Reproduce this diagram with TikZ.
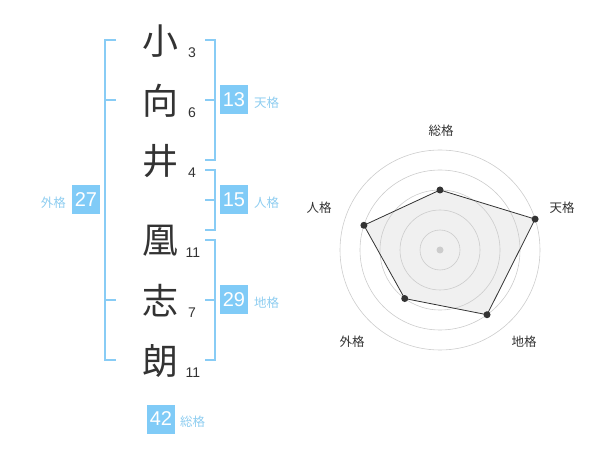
\documentclass[tikz,border=0pt]{standalone}
\usepackage{fontspec}
\setmainfont{Liberation Sans}
\newfontfamily\jp{Noto Sans CJK JP}
\definecolor{brk}{HTML}{88CCF5}
\definecolor{boxc}{HTML}{80CBF7}
\definecolor{lblc}{HTML}{8ECDF0}
\definecolor{ink}{HTML}{333333}
\definecolor{ring}{HTML}{CCCCCC}
\definecolor{area}{HTML}{F0F0F0}
\begin{document}
\begin{tikzpicture}[x=1pt,y=-1pt,
  kanji/.style={font=\jp\fontsize{36}{36}\selectfont, text=ink, inner sep=0pt},
  strokes/.style={font=\fontsize{14}{14}\selectfont, text=ink, inner sep=0pt},
  numbox/.style={fill=boxc, text=white, font=\fontsize{20}{20}\selectfont, minimum width=28pt, minimum height=29pt, inner sep=0pt},
  kaku/.style={font=\jp\fontsize{12.5}{12.5}\selectfont, text=lblc, inner sep=0pt},
  bracket/.style={draw=brk, line width=2pt},
  ringc/.style={draw=ring, line width=0.6pt},
  dot/.style={circle, fill=ink, minimum size=7pt, inner sep=0pt},
  axlbl/.style={font=\jp\fontsize{12.5}{12.5}\selectfont, text=ink, inner sep=0pt}]
\useasboundingbox (0,0) rectangle (600,470);
% kanji
\node[kanji] (k1) at (160,41) {小};
\node[kanji] (k2) at (160,101) {向};
\node[kanji] (k3) at (160,161) {井};
\node[kanji] (k4) at (160,241) {凰};
\node[kanji] (k5) at (160,301) {志};
\node[kanji] (k6) at (160,361) {朗};
% stroke counts
\node[strokes] (s1) at (192,53) {3};
\node[strokes] (s2) at (192,113) {6};
\node[strokes] (s3) at (192,173) {4};
\node[strokes] (s4) at (193,253) {11};
\node[strokes] (s5) at (192,313) {7};
\node[strokes] (s6) at (193,373) {11};
% brackets
\draw[bracket] (116,40) -- (105,40) -- (105,360) -- (116,360);
\draw[bracket] (105,100) -- (116,100);
\draw[bracket] (105,300) -- (116,300);
\draw[bracket] (205,40) -- (215,40) -- (215,160) -- (205,160);
\draw[bracket] (205,100) -- (215,100);
\draw[bracket] (205,170) -- (215,170) -- (215,230) -- (205,230);
\draw[bracket] (205,200) -- (215,200);
\draw[bracket] (205,240) -- (215,240) -- (215,360) -- (205,360);
\draw[bracket] (205,300) -- (215,300);
% boxes and labels
\node[numbox] (b13) at (234,100) {13};
\node[kaku, anchor=west] (l13) at (254,103) {天格};
\node[numbox] (b15) at (234,200) {15};
\node[kaku, anchor=west] (l15) at (254,203) {人格};
\node[numbox] (b29) at (234,300) {29};
\node[kaku, anchor=west] (l29) at (254,303) {地格};
\node[numbox] (b27) at (86,200) {27};
\node[kaku, anchor=east] (l27) at (66,203) {外格};
\node[numbox] (b42) at (161,419) {42};
\node[kaku, anchor=west] (l42) at (180,422) {総格};
% radar
\begin{scope}[shift={(440,250)}]
  \coordinate (ps) at (-90:60);
  \coordinate (pt) at (-18:100);
  \coordinate (pc) at (54:80);
  \coordinate (pg) at (126:60);
  \coordinate (pj) at (198:80);
  \fill[area] (ps) -- (pt) -- (pc) -- (pg) -- (pj) -- cycle;
  \foreach \r in {20,40,60,80,100} \draw[ringc] (0,0) circle (\r);
  \node[circle, fill=ring, minimum size=7pt, inner sep=0pt] (ctr) at (0,0) {};
  \draw[draw=ink, line width=0.8pt] (ps) -- (pt) -- (pc) -- (pg) -- (pj) -- cycle;
  \foreach \p in {ps,pt,pc,pg,pj} \node[dot] at (\p) {};
\end{scope}
\node[axlbl] (as) at (441,131) {総格};
\node[axlbl] (at) at (562,208) {天格};
\node[axlbl] (ac) at (524,342) {地格};
\node[axlbl] (ag) at (352,342) {外格};
\node[axlbl] (aj) at (319,208) {人格};
\end{tikzpicture}
\end{document}
